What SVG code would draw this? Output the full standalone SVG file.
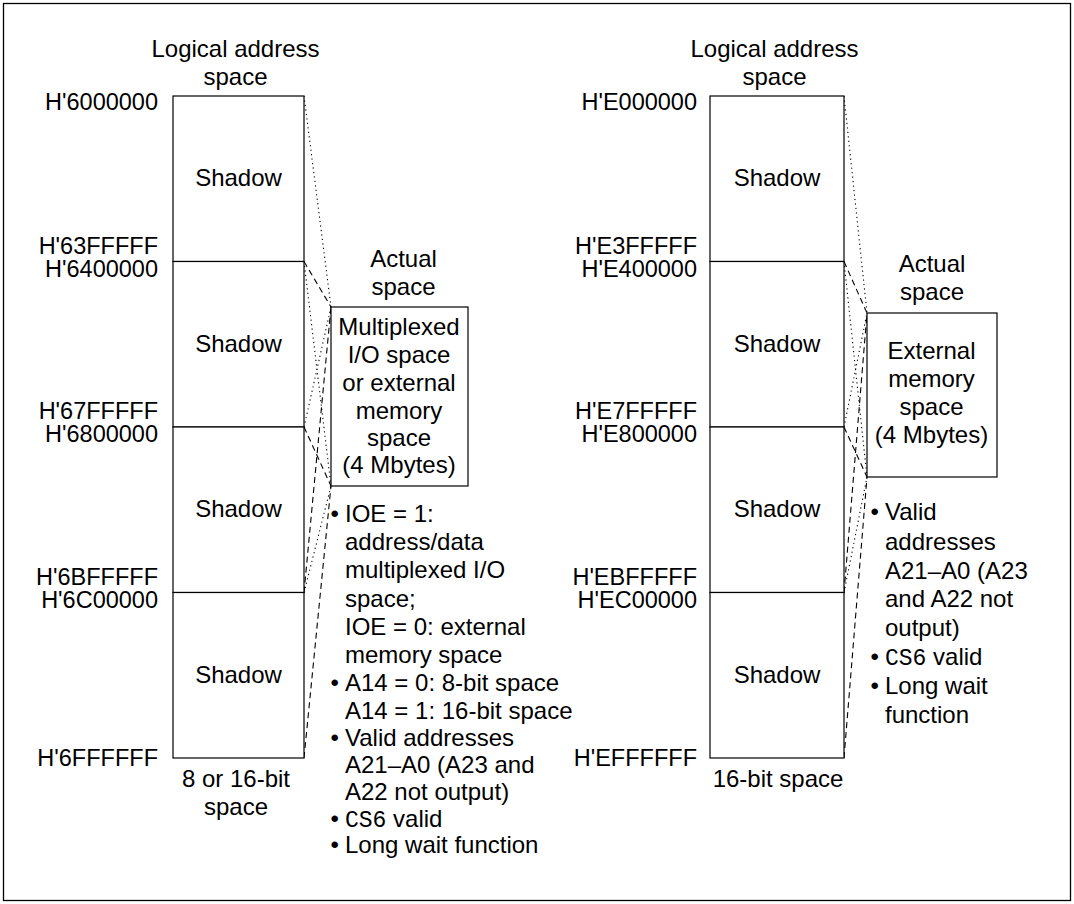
<svg xmlns="http://www.w3.org/2000/svg" width="1074" height="904" viewBox="0 0 1074 904">
<style>
text{font-family:"Liberation Sans",Arial,sans-serif;font-size:24px;fill:#000}
.m{text-anchor:middle}
.e{text-anchor:end;font-size:23.5px}
.mono{font-family:"Liberation Mono","Courier New",monospace;font-size:23px}
.box{fill:#fff;stroke:#000;stroke-width:1.2}
.dot{stroke:#000;stroke-width:1.1;stroke-dasharray:1.2 3.3;fill:none}
.dash{stroke:#000;stroke-width:1.1;stroke-dasharray:6 4;fill:none}
</style>
<rect x="3.5" y="3.5" width="1067" height="897" fill="#fff" stroke="#000" stroke-width="1.3"/>

<g id="connectors">
<line class="dot" x1="304" y1="96" x2="331" y2="307"/>
<line class="dot" x1="304" y1="261.5" x2="331" y2="486"/>
<line class="dot" x1="304" y1="427" x2="331" y2="307"/>
<line class="dot" x1="304" y1="592.5" x2="331" y2="486"/>
<line class="dash" x1="304" y1="261.5" x2="331" y2="307"/>
<line class="dash" x1="304" y1="427" x2="331" y2="486"/>
<line class="dash" x1="304" y1="592.5" x2="331" y2="307"/>
<line class="dash" x1="304" y1="758" x2="331" y2="486"/>
<line class="dot" x1="844" y1="96" x2="867" y2="313"/>
<line class="dot" x1="844" y1="261.5" x2="867" y2="477"/>
<line class="dot" x1="844" y1="427" x2="867" y2="313"/>
<line class="dot" x1="844" y1="592.5" x2="867" y2="477"/>
<line class="dash" x1="844" y1="261.5" x2="867" y2="313"/>
<line class="dash" x1="844" y1="427" x2="867" y2="477"/>
<line class="dash" x1="844" y1="592.5" x2="867" y2="313"/>
<line class="dash" x1="844" y1="758" x2="867" y2="477"/>
</g>

<g id="left-logical">
<text class="m" x="235.5" y="57">Logical address</text>
<text class="m" x="235.5" y="85">space</text>
<rect class="box" x="173" y="96" width="131" height="165.5"/>
<rect class="box" x="173" y="261.5" width="131" height="165.5"/>
<rect class="box" x="173" y="427" width="131" height="165.5"/>
<rect class="box" x="173" y="592.5" width="131" height="165.5"/>
<text class="m" x="238.5" y="186">Shadow</text>
<text class="m" x="238.5" y="351.5">Shadow</text>
<text class="m" x="238.5" y="517">Shadow</text>
<text class="m" x="238.5" y="682.5">Shadow</text>
<text class="e" x="158" y="109.5">H'6000000</text>
<text class="e" x="158" y="253.5">H'63FFFFF</text>
<text class="e" x="158" y="276.5">H'6400000</text>
<text class="e" x="158" y="419">H'67FFFFF</text>
<text class="e" x="158" y="442">H'6800000</text>
<text class="e" x="158" y="584.5">H'6BFFFFF</text>
<text class="e" x="158" y="607.5">H'6C00000</text>
<text class="e" x="158" y="766">H'6FFFFFF</text>
<text class="m" x="236" y="786.5">8 or 16-bit</text>
<text class="m" x="236" y="815">space</text>
</g>

<g id="left-actual">
<text class="m" x="403.5" y="266.5">Actual</text>
<text class="m" x="403.5" y="295">space</text>
<rect class="box" x="331" y="307" width="137" height="179"/>
<text class="m" x="399" y="335">Multiplexed</text>
<text class="m" x="399" y="363">I/O space</text>
<text class="m" x="399" y="391">or external</text>
<text class="m" x="399" y="419">memory</text>
<text class="m" x="399" y="446">space</text>
<text class="m" x="399" y="473">(4 Mbytes)</text>
</g>

<g id="left-notes">
<text x="330.5" y="521.5">•</text>
<text x="345" y="521.5">IOE = 1:</text>
<text x="345" y="549.8">address/data</text>
<text x="345" y="578">multiplexed I/O</text>
<text x="345" y="606.5">space;</text>
<text x="345" y="634.5">IOE = 0: external</text>
<text x="345" y="663">memory space</text>
<text x="330.5" y="691">•</text>
<text x="345" y="691">A14 = 0: 8-bit space</text>
<text x="345" y="718.5">A14 = 1: 16-bit space</text>
<text x="330.5" y="745.8">•</text>
<text x="345" y="745.8">Valid addresses</text>
<text x="345" y="773">A21–A0 (A23 and</text>
<text x="345" y="800">A22 not output)</text>
<text x="330.5" y="826.5">•</text>
<text x="345" y="826.5"><tspan class="mono">CS6</tspan> valid</text>
<text x="330.5" y="853">•</text>
<text x="345" y="853">Long wait function</text>
</g>

<g id="right-logical">
<text class="m" x="774.5" y="57">Logical address</text>
<text class="m" x="774.5" y="85">space</text>
<rect class="box" x="710" y="96" width="134" height="165.5"/>
<rect class="box" x="710" y="261.5" width="134" height="165.5"/>
<rect class="box" x="710" y="427" width="134" height="165.5"/>
<rect class="box" x="710" y="592.5" width="134" height="165.5"/>
<text class="m" x="777" y="186">Shadow</text>
<text class="m" x="777" y="351.5">Shadow</text>
<text class="m" x="777" y="517">Shadow</text>
<text class="m" x="777" y="682.5">Shadow</text>
<text class="e" x="697" y="109.5">H'E000000</text>
<text class="e" x="697" y="253.5">H'E3FFFFF</text>
<text class="e" x="697" y="276.5">H'E400000</text>
<text class="e" x="697" y="419">H'E7FFFFF</text>
<text class="e" x="697" y="442">H'E800000</text>
<text class="e" x="697" y="584.5">H'EBFFFFF</text>
<text class="e" x="697" y="607.5">H'EC00000</text>
<text class="e" x="697" y="766">H'EFFFFFF</text>
<text class="m" x="778" y="786.5">16-bit space</text>
</g>

<g id="right-actual">
<text class="m" x="932" y="271.5">Actual</text>
<text class="m" x="932" y="300">space</text>
<rect class="box" x="867" y="313" width="130" height="164"/>
<text class="m" x="931.5" y="358.5">External</text>
<text class="m" x="931.5" y="386.5">memory</text>
<text class="m" x="931.5" y="414.5">space</text>
<text class="m" x="931.5" y="442.5">(4 Mbytes)</text>
</g>

<g id="right-notes">
<text x="870.5" y="520">•</text>
<text x="885" y="520">Valid</text>
<text x="885" y="549.5">addresses</text>
<text x="885" y="578.5">A21–A0 (A23</text>
<text x="885" y="607">and A22 not</text>
<text x="885" y="636">output)</text>
<text x="870.5" y="665">•</text>
<text x="885" y="665"><tspan class="mono">CS6</tspan> valid</text>
<text x="870.5" y="694">•</text>
<text x="885" y="694">Long wait</text>
<text x="885" y="722.5">function</text>
</g>
</svg>
